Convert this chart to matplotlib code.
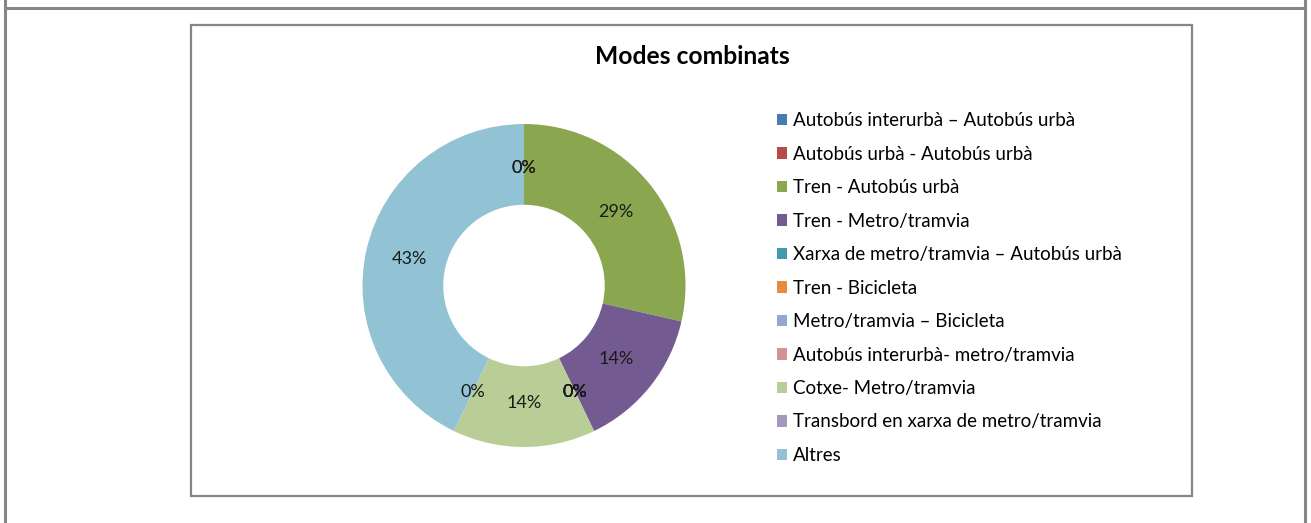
import matplotlib.pyplot as plt
from matplotlib.lines import Line2D
from matplotlib.patches import Rectangle

plt.rcParams['font.family'] = ['Lato', 'DejaVu Sans']

# Modes combinats: number of trips per combination
categories = [
    'Autobús interurbà – Autobús urbà',
    'Autobús urbà - Autobús urbà',
    'Tren - Autobús urbà',
    'Tren - Metro/tramvia',
    'Xarxa de metro/tramvia – Autobús urbà',
    'Tren - Bicicleta',
    'Metro/tramvia – Bicicleta',
    'Autobús interurbà- metro/tramvia',
    'Cotxe- Metro/tramvia',
    'Transbord en xarxa de metro/tramvia',
    'Altres',
]
counts = [0, 0, 2, 1, 0, 0, 0, 0, 1, 0, 3]
colors = ['#4a7ab4', '#b84b48', '#8aa64e', '#735a91', '#4499b2', '#e98b3e',
          '#91a8d3', '#d49392', '#b9ce96', '#a598bd', '#92c3d4']

W, H = 1311, 523
fig = plt.figure(figsize=(W / 100, H / 100), dpi=100)

def px(x, y):
    # pixel coords (from top-left) -> figure fraction
    return x / W, 1 - y / H

grey = '#868686'
# page cell borders
fig.add_artist(Line2D([4.5 / W, 4.5 / W], [0, 1], color=grey, lw=2.2))
fig.add_artist(Line2D([1304.5 / W, 1304.5 / W], [0, 1], color=grey, lw=2.2))
fig.add_artist(Line2D([4.5 / W, 1304.5 / W], [1 - 7.5 / H, 1 - 7.5 / H], color=grey, lw=2.2))

# chart area frame
x0, y0 = px(190.5, 495.5)
x1, y1 = px(1192, 24.5)
fig.add_artist(Rectangle((x0, y0), x1 - x0, y1 - y0, transform=fig.transFigure,
                         fill=False, edgecolor=grey, lw=1.6))

fig.text(*px(692, 57), 'Modes combinats', ha='center', va='center',
         fontsize=17.7, fontweight='bold', color='black')

# donut
cx, cy, r = 524, 285.5, 161.5
l, b = px(cx - r, cy + r)
ax = fig.add_axes([l, b, 2 * r / W, 2 * r / H])
wedges, _, autotexts = ax.pie(counts, colors=colors, startangle=90, counterclock=False,
                              autopct='%1.0f%%', pctdistance=0.73,
                              wedgeprops=dict(width=0.5, linewidth=0),
                              textprops=dict(fontsize=13, color='#1a1a1a'))
ax.set_xlim(-1, 1)
ax.set_ylim(-1, 1)
ax.set_aspect('equal')
ax.axis('off')

handles = [Rectangle((0, 0), 1, 1, facecolor=c, edgecolor='none') for c in colors]
fig.legend(handles, categories, loc='upper left', bbox_to_anchor=px(777, 112),
           frameon=False, fontsize=13.5, handlelength=0.55, handleheight=0.55,
           handletextpad=0.3, labelspacing=0.88, borderpad=0, borderaxespad=0)

fig.savefig('out.png', dpi=100)
